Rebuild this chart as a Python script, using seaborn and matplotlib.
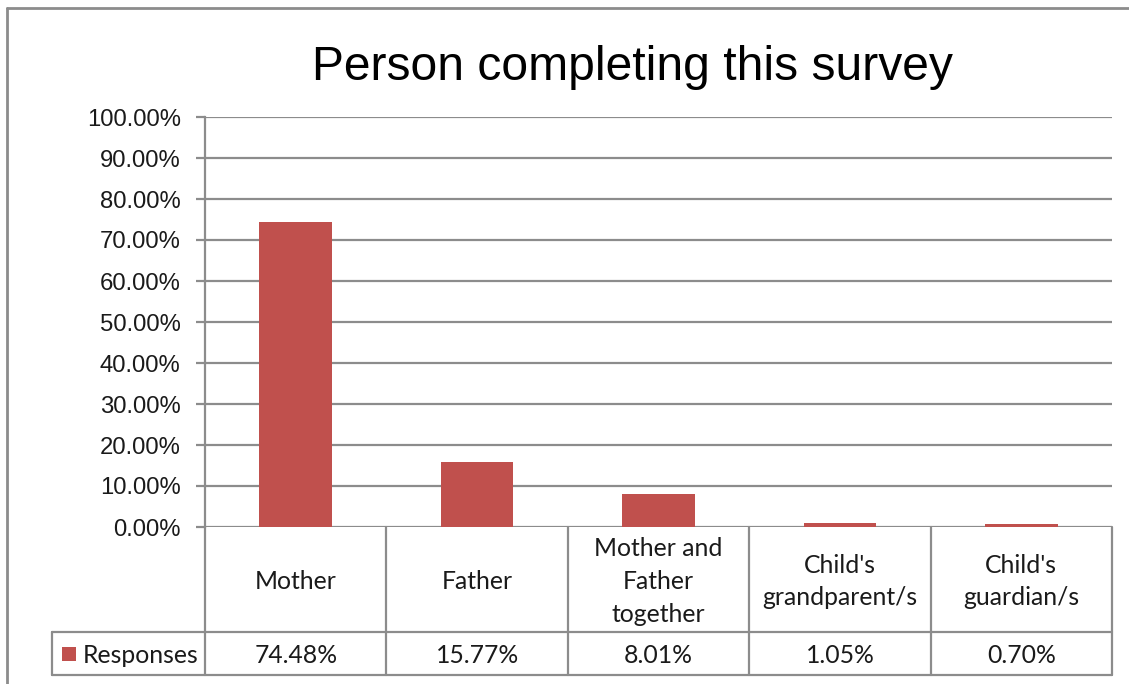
import matplotlib
matplotlib.use("Agg")
import matplotlib.pyplot as plt
import matplotlib.transforms as mtransforms
from matplotlib.lines import Line2D
from matplotlib.patches import Rectangle
import seaborn as sns
import pandas as pd

# ---- data ----
categories = ["Mother", "Father", "Mother and\nFather\ntogether",
              "Child's\ngrandparent/s", "Child's\nguardian/s"]
values = [74.48, 15.77, 8.01, 1.05, 0.70]
value_labels = ["74.48%", "15.77%", "8.01%", "1.05%", "0.70%"]
series_name = "Responses"
title = "Person completing this survey"
y_ticks = [0, 10, 20, 30, 40, 50, 60, 70, 80, 90, 100]

BAR = "#C0504D"
GRID = "#8C8C8C"
TXT = "#1a1a1a"
W, H = 1129, 684

sns.set_theme(style="white")
plt.rcParams["font.family"] = ["Liberation Sans", "DejaVu Sans"]

fig = plt.figure(figsize=(W / 100, H / 100), dpi=100)
fig.patch.set_facecolor("white")

def fx(px):
    return px / W

def fy(py):
    return 1 - py / H

ax_l, ax_r, ax_t, ax_b = 205, 1112, 117, 527
ax = fig.add_axes([fx(ax_l), fy(ax_b), fx(ax_r - ax_l), (ax_b - ax_t) / H])

df = pd.DataFrame({"cat": categories, "val": values})
sns.barplot(data=df, x="cat", y="val", color=BAR, saturation=1, width=0.4,
            linewidth=0, ax=ax, zorder=3)

ax.set_xlim(-0.5, len(categories) - 0.5)
ax.set_ylim(0, 100)
ax.set_yticks(y_ticks)
ax.set_yticklabels([f"{t:.2f}%" for t in y_ticks], fontsize=17.2, color=TXT,
                   family=["Liberation Sans", "DejaVu Sans"])
ax.set_xticks([])
ax.set_xlabel("")
ax.set_ylabel("")
ax.tick_params(axis="y", left=True, length=6.5, width=1.6, color=GRID, pad=11)
ax.yaxis.grid(True, color=GRID, linewidth=1.6, zorder=0)
ax.set_axisbelow(True)
for s in ["top", "right", "bottom"]:
    ax.spines[s].set_visible(False)
ax.spines["left"].set_color(GRID)
ax.spines["left"].set_linewidth(1.6)
ax.set_facecolor("white")

# ---- data table below the axis ----
tbl_font = ["Lato", "DejaVu Sans"]
tbl_size = 17.8
tr = mtransforms.blended_transform_factory(ax.transData, fig.transFigure)
row1_bot, row2_bot = 632, 675
n = len(categories)
lw = 1.6
for i in range(n + 1):
    xd = i - 0.5
    fig.add_artist(Line2D([xd, xd], [fy(ax_b), fy(row2_bot)], transform=tr,
                          color=GRID, linewidth=lw))
leg_left = 52
for yy in [row1_bot, row2_bot]:
    fig.add_artist(Line2D([fx(leg_left), fx(ax_r)], [fy(yy), fy(yy)],
                          transform=fig.transFigure, color=GRID, linewidth=lw))
fig.add_artist(Line2D([fx(leg_left), fx(leg_left)], [fy(row1_bot), fy(row2_bot)],
                      transform=fig.transFigure, color=GRID, linewidth=lw))

for i, (c, v) in enumerate(zip(categories, value_labels)):
    fig.text(i, fy((ax_b + row1_bot) / 2 + 2), c, transform=tr, ha="center",
             va="center", fontsize=tbl_size, color=TXT, family=tbl_font,
             linespacing=1.5)
    fig.text(i, fy((row1_bot + row2_bot) / 2 + 2), v, transform=tr, ha="center",
             va="center", fontsize=tbl_size, color=TXT, family=tbl_font)

# legend key
fig.add_artist(Rectangle((fx(62), fy(661)), fx(14), 14 / H,
                         transform=fig.transFigure, color=BAR, linewidth=0))
fig.text(fx(83), fy((row1_bot + row2_bot) / 2 + 2), series_name, ha="left",
         va="center", fontsize=tbl_size, color=TXT, family=tbl_font)

# ---- title ----
fig.text(fx(632), fy(80), title, ha="center", va="baseline", fontsize=34.6,
         color="black", family=["Liberation Sans", "DejaVu Sans"])

# ---- outer chart frame (partially outside image) ----
fig.add_artist(Line2D([fx(7), fx(7)], [fy(8), 0], transform=fig.transFigure,
                      color=GRID, linewidth=2))
fig.add_artist(Line2D([fx(7), 1], [fy(8), fy(8)], transform=fig.transFigure,
                      color=GRID, linewidth=2))

fig.savefig("out.png", dpi=100, facecolor="white")
